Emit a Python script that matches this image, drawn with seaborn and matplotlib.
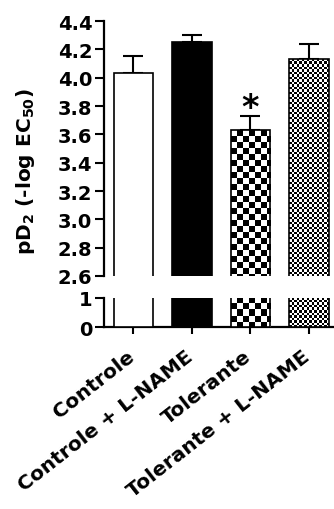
import numpy as np
import pandas as pd
import matplotlib
matplotlib.use("Agg")
import matplotlib.pyplot as plt
import matplotlib.transforms as mtransforms
from matplotlib.patches import Rectangle
import seaborn as sns

# Data: pD2 (-log EC50), mean and SEM per group
groups = ["Controle", "Controle + L-NAME", "Tolerante", "Tolerante + L-NAME"]
pd2_mean = [4.03, 4.25, 3.63, 4.13]
pd2_sem = [0.12, 0.05, 0.10, 0.105]
fills = ["white", "black", "checker_coarse", "checker_fine"]
top_ticks = [2.6, 2.8, 3.0, 3.2, 3.4, 3.6, 3.8, 4.0, 4.2, 4.4]
bottom_ticks = [0, 1]

sns.set_theme(style="ticks")
plt.rcParams["font.family"] = ["DejaVu Sans"]
plt.rcParams["font.weight"] = "bold"
plt.rcParams["mathtext.fontset"] = "dejavusans"
plt.rcParams["mathtext.default"] = "bf"
for key in ["text.color", "axes.labelcolor", "xtick.color", "ytick.color",
            "axes.edgecolor"]:
    plt.rcParams[key] = "black"

df = pd.DataFrame({"group": groups, "pd2": pd2_mean})
palette = {g: ("black" if f == "black" else "white") for g, f in zip(groups, fills)}

W, H = 334, 510
fig = plt.figure(figsize=(W / 100, H / 100), dpi=100)
left = 104 / W
width = 1.0 - left
ax_top = fig.add_axes([left, 1 - 277 / H, width, 255 / H])
ax_bot = fig.add_axes([left, 1 - 328 / H, width, 29 / H])

XLIM = (-0.504, 3.43)


def checker_fill(ax, patch, cell_px):
    """Fill a bar with a black/white checkerboard, clipped to the visible bar."""
    ylim = ax.get_ylim()
    xlim = ax.get_xlim()
    x0, w = patch.get_x(), patch.get_width()
    y0, h = patch.get_y(), patch.get_height()
    ylo, yhi = max(y0, ylim[0]), min(y0 + h, ylim[1])
    if yhi <= ylo:
        return
    (px0, py0) = ax.transData.transform((x0, ylo))
    (px1, py1) = ax.transData.transform((x0 + w, yhi))
    nx = int(np.ceil((px1 - px0) / cell_px)) + 1
    ny = int(np.ceil((py1 - py0) / cell_px)) + 1
    arr = np.add.outer(np.arange(ny), np.arange(nx)) % 2
    inv = ax.transData.inverted()
    ex1, _ = inv.transform((px0 + nx * cell_px, py1))
    _, ey0 = inv.transform((px0, py1 - ny * cell_px))
    im = ax.imshow(arr, cmap="gray_r", vmin=0, vmax=1, origin="upper",
                   extent=(x0, ex1, ey0, yhi), interpolation="nearest",
                   aspect="auto", zorder=patch.get_zorder() - 0.1)
    clip = Rectangle((x0, ylo), w, yhi - ylo, transform=ax.transData)
    im.set_clip_path(clip)
    patch.set_facecolor("none")
    ax.set_xlim(xlim)
    ax.set_ylim(ylim)


for ax, ylim in [(ax_top, (2.6, 4.4)), (ax_bot, (0, 1))]:
    sns.barplot(data=df, x="group", y="pd2", hue="group", palette=palette,
                legend=False, errorbar=None, width=0.68, edgecolor="black",
                linewidth=1.2, saturation=1, ax=ax)
    ax.set_xlim(XLIM)
    ax.set_ylim(ylim)
    for p, f in zip(list(ax.patches), fills):
        p.set_zorder(3)
        if f == "checker_coarse":
            checker_fill(ax, p, 6)
        elif f == "checker_fine":
            checker_fill(ax, p, 2.5)
    ax.set_xlabel("")
    ax.set_ylabel("")
    for s in ["top", "right"]:
        ax.spines[s].set_visible(False)
    ax.spines["left"].set_linewidth(1.6)
    ax.spines["bottom"].set_linewidth(1.6)
    ax.tick_params(axis="y", length=6.5, width=1.5, labelsize=14, pad=2)
    ax.tick_params(axis="x", length=5, width=1.5, labelsize=14.5, pad=2)

# one-sided SEM error bars
ax_top.errorbar(range(len(groups)), pd2_mean,
                yerr=[np.zeros(len(groups)), pd2_sem], fmt="none",
                ecolor="black", elinewidth=1.5, capsize=7, capthick=1.5,
                zorder=2, clip_on=False)

ax_top.spines["bottom"].set_visible(False)
ax_top.tick_params(axis="x", bottom=False, labelbottom=False)
ax_top.set_yticks(top_ticks)
ax_top.set_yticklabels([f"{t:.1f}" for t in top_ticks])

ax_bot.set_yticks(bottom_ticks)
ax_bot.set_yticklabels([str(t) for t in bottom_ticks])
ax_bot.set_xticks(range(len(groups)))
ax_bot.set_xticklabels(groups, rotation=38, ha="right", va="top",
                       rotation_mode="anchor", fontweight="bold")
shift = mtransforms.ScaledTranslation(-7 / 100, -10 / 100, fig.dpi_scale_trans)
for lab in ax_bot.get_xticklabels():
    lab.set_transform(lab.get_transform() + shift)

for lab in ax_top.get_yticklabels() + ax_bot.get_yticklabels():
    lab.set_fontweight("bold")

# significance marker
ax_top.annotate("*", xy=(2, pd2_mean[2] + pd2_sem[2]), xytext=(0, -5.5),
                textcoords="offset points", ha="center", va="bottom",
                fontsize=24, fontweight="bold")

fig.text(26 / W, 1 - 172 / H, r"pD$_2$ (-log EC$_{50}$)", rotation=90,
         ha="center", va="center", fontsize=14.5, fontweight="bold")

fig.savefig("out.png", dpi=100)
